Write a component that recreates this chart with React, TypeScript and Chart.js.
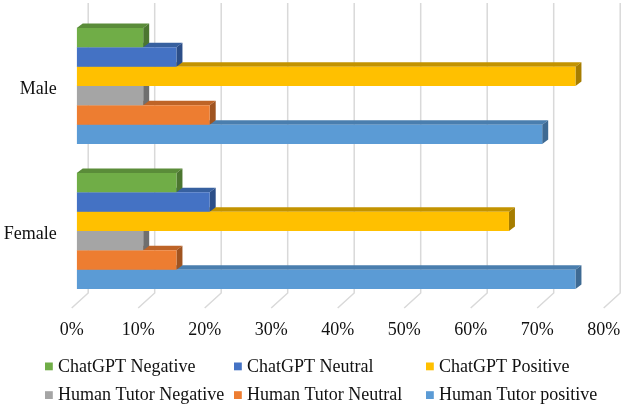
import { useEffect, useRef } from 'react';
import { Chart, registerables } from 'chart.js';

Chart.register(...registerables);

const categories = ['Male', 'Female'];
const seriesNames = [
  'ChatGPT Negative',
  'ChatGPT Neutral',
  'ChatGPT Positive',
  'Human Tutor Negative',
  'Human Tutor Neutral',
  'Human Tutor positive',
];
const chatgptNegative = [10, 15];
const chatgptNeutral = [15, 20];
const chatgptPositive = [75, 65];
const tutorNegative = [10, 10];
const tutorNeutral = [20, 15];
const tutorPositive = [70, 75];
const xTickValues = [0, 10, 20, 30, 40, 50, 60, 70, 80];

const frontColors = ['#70AD47', '#4472C4', '#FFC000', '#A5A5A5', '#ED7D31', '#5B9BD5'];
const topColors = ['#5A8C39', '#37609F', '#C39300', '#858585', '#BE6427', '#4A7EAE'];
const sideColors = ['#4C7630', '#2C4E88', '#A67D00', '#6F6F6F', '#A05420', '#3E6A93'];

const FONT = { family: '"Liberation Serif", "Times New Roman", serif', size: 18 };
const DX = 6;
const DY = 4.5;

const depthPlugin = {
  id: 'depth3d',
  beforeDatasetsDraw(chart: any) {
    const ctx = chart.ctx;
    const xs = chart.scales.x;
    const area = chart.chartArea;
    ctx.save();
    ctx.strokeStyle = '#D9D9D9';
    ctx.lineWidth = 1.5;
    xTickValues.forEach((v) => {
      const px = xs.getPixelForValue(v);
      ctx.beginPath();
      ctx.moveTo(px + 11.5, area.top - 10.5);
      ctx.lineTo(px + 11.5, area.bottom - 10.5);
      ctx.lineTo(px - 5, area.bottom + 4.5);
      ctx.stroke();
    });
    for (let d = chart.data.datasets.length - 1; d >= 0; d--) {
      const meta = chart.getDatasetMeta(d);
      meta.data.forEach((bar: any) => {
        const top = bar.y - bar.height / 2;
        const bottom = bar.y + bar.height / 2;
        const base = bar.base;
        const end = bar.x;
        ctx.fillStyle = topColors[d];
        ctx.beginPath();
        ctx.moveTo(base, top);
        ctx.lineTo(end, top);
        ctx.lineTo(end + DX, top - DY);
        ctx.lineTo(base + DX, top - DY);
        ctx.closePath();
        ctx.fill();
        ctx.fillStyle = sideColors[d];
        ctx.beginPath();
        ctx.moveTo(end, top);
        ctx.lineTo(end + DX, top - DY);
        ctx.lineTo(end + DX, bottom - DY);
        ctx.lineTo(end, bottom);
        ctx.closePath();
        ctx.fill();
      });
    }
    ctx.restore();
  },
};

const legendPlugin = {
  id: 'gridLegend',
  afterDraw(chart: any) {
    const ctx = chart.ctx;
    const cols = [45, 234, 426];
    const rows = [366.3, 395];
    ctx.save();
    ctx.font = `${FONT.size}px ${FONT.family}`;
    ctx.textBaseline = 'middle';
    ctx.textAlign = 'left';
    chart.data.datasets.forEach((ds: any, i: number) => {
      const c = i % 3;
      const r = Math.floor(i / 3);
      ctx.fillStyle = ds.backgroundColor;
      ctx.fillRect(cols[c], rows[r] - 3.8, 7.8, 7.8);
      ctx.fillStyle = '#111';
      ctx.fillText(ds.label, cols[c] + 13, rows[r] + 0.5);
    });
    ctx.restore();
  },
};

export default function App() {
  const canvasRef = useRef<HTMLCanvasElement | null>(null);

  useEffect(() => {
    if (!canvasRef.current) return;
    const values = [chatgptNegative, chatgptNeutral, chatgptPositive, tutorNegative, tutorNeutral, tutorPositive];
    const chart = new Chart(canvasRef.current, {
      type: 'bar',
      data: {
        labels: categories,
        datasets: values.map((data, i) => ({
          label: seriesNames[i],
          data,
          backgroundColor: frontColors[i],
          borderWidth: 0,
          categoryPercentage: 0.8,
          barPercentage: 1,
        })),
      },
      options: {
        indexAxis: 'y',
        responsive: true,
        maintainAspectRatio: false,
        animation: false,
        layout: { padding: { top: 13.5, right: 15.3, left: 0, bottom: 0 } },
        plugins: { legend: { display: false }, tooltip: { enabled: false } },
        scales: {
          x: {
            min: 0,
            max: 80,
            afterBuildTicks: (s: any) => {
              s.ticks = xTickValues.map((v) => ({ value: v }));
            },
            ticks: {
              callback: (v: any) => `${v}%`,
              padding: 16,
              labelOffset: -5,
              maxRotation: 0,
              autoSkip: false,
              font: FONT,
              color: '#111',
            },
            grid: { display: false, drawTicks: false },
            border: { display: false },
            afterFit: (s: any) => {
              s.height = 103.5;
              s.paddingLeft = 0;
              s.paddingRight = 0;
              s.paddingTop = 0;
              s.paddingBottom = 0;
            },
          },
          y: {
            ticks: { padding: 20, labelOffset: 3.5, font: FONT, color: '#111' },
            grid: { display: false, drawTicks: false },
            border: { display: false },
            afterFit: (s: any) => {
              s.width = 76.7;
              s.paddingLeft = 0;
              s.paddingRight = 0;
              s.paddingTop = 0;
              s.paddingBottom = 0;
            },
          },
        },
      } as any,
      plugins: [depthPlugin, legendPlugin],
    });
    return () => chart.destroy();
  }, []);

  return (
    <div style={{ position: 'absolute', left: 0, top: 0, width: 624, height: 407, background: '#fff' }}>
      <canvas ref={canvasRef} />
    </div>
  );
}
